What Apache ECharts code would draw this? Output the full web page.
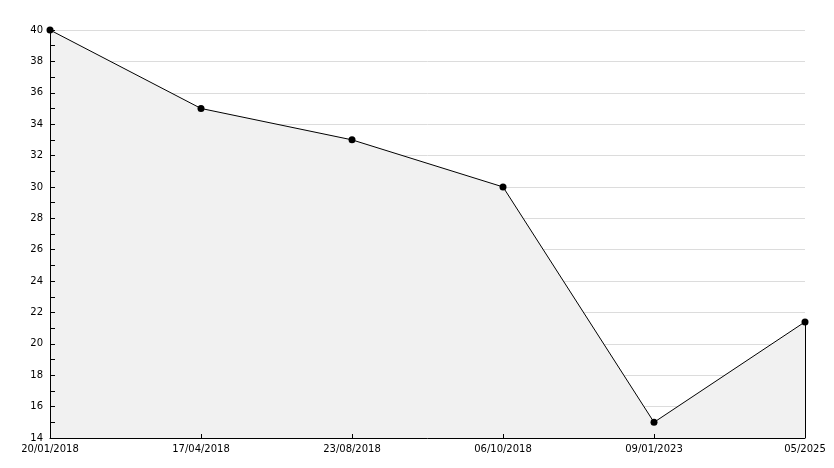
<!DOCTYPE html>
<html><head><meta charset="utf-8">
<script src="https://cdn.jsdelivr.net/npm/echarts@6/dist/echarts.min.js"></script>
<style>html,body{margin:0;padding:0;background:#fff}#c{width:834px;height:468px}</style>
</head><body><div id="c"></div>
<script>
const categories = ['20/01/2018','17/04/2018','23/08/2018','06/10/2018','09/01/2023','05/2025'];
const values = [40, 35, 33, 30, 15, 21.4];
const yMin = 14, yMax = 40, yStep = 2;

const chart = echarts.init(document.getElementById('c'), null, {renderer:'canvas'});
const font = 'DejaVu Sans';
chart.setOption({
  animation: false,
  backgroundColor: '#ffffff',
  grid: {left: 50, right: 29, top: 30, bottom: 30, containLabel: false},
  xAxis: [{
    type: 'category', data: categories, boundaryGap: false, position: 'bottom', z: 0,
    axisLine: {show: false}, axisTick: {show: false}, axisLabel: {show: false},
    splitLine: {show: false}
  }, {
    type: 'category', data: categories, boundaryGap: false, position: 'bottom', z: 5,
    axisLine: {show: true, lineStyle: {color: '#000', width: 1}},
    axisTick: {show: true, inside: true, length: 4, lineStyle: {color: '#000'}},
    axisLabel: {color: '#000', fontFamily: font, fontSize: 10, margin: 6, interval: 0},
    splitLine: {show: false}
  }],
  yAxis: [{
    type: 'value', min: yMin, max: yMax, interval: yStep, position: 'left', z: 0,
    axisLine: {show: false}, axisTick: {show: false}, axisLabel: {show: false},
    splitLine: {show: true, lineStyle: {color: '#dcdcdc', width: 1}}
  }, {
    type: 'value', min: yMin, max: yMax, interval: yStep, position: 'left', z: 5,
    axisLine: {show: true, lineStyle: {color: '#000', width: 1}},
    axisTick: {show: true, inside: true, length: 5, lineStyle: {color: '#000', width: 1}},
    minorTick: {show: true, splitNumber: 2, length: 5, lineStyle: {color: '#000', width: 1}},
    axisLabel: {color: '#000', fontFamily: font, fontSize: 10, margin: 7},
    splitLine: {show: false}
  }],
  series: [{
    type: 'line', data: values, xAxisIndex: 0, yAxisIndex: 0,
    symbol: 'circle', symbolSize: 7,
    itemStyle: {color: '#000'},
    lineStyle: {color: '#000', width: 1},
    areaStyle: {color: '#f1f1f1', opacity: 1, origin: 'start'},
    markLine: {
      silent: true, symbol: 'none', label: {show: false},
      lineStyle: {color: '#000', width: 1, type: 'solid'},
      data: [[{coord: [categories[5], values[5]]}, {coord: [categories[5], yMin]}]]
    }
  }]
});
</script></body></html>
